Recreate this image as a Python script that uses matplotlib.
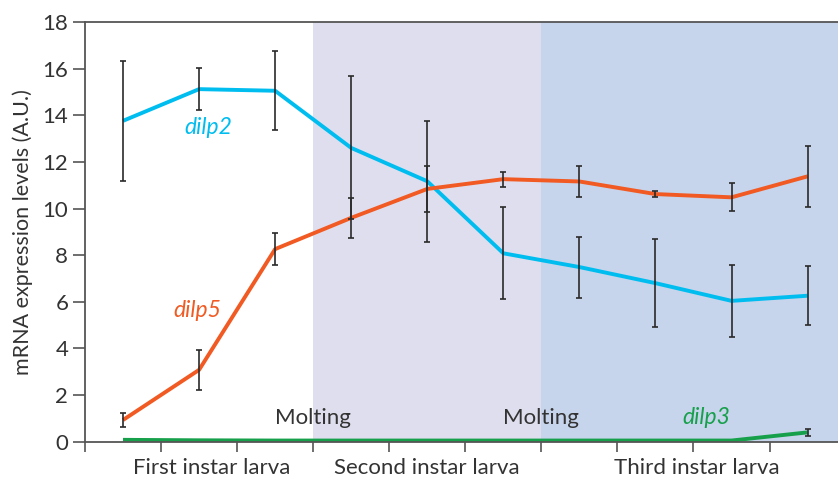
import numpy as np
import matplotlib.pyplot as plt

plt.rcParams['font.family'] = ['Lato', 'DejaVu Sans']

# sampling points (10 time points, 3 per first/second instar, 4 in third)
points = np.arange(10) + 0.5

dilp2 = [13.76, 15.12, 15.05, 12.6, 11.17, 8.08, 7.49, 6.8, 6.04, 6.26]
dilp2_err = [2.56, 0.9, 1.7, 3.07, 2.6, 1.98, 1.31, 1.88, 1.53, 1.26]

dilp5 = [0.93, 3.08, 8.26, 9.6, 10.84, 11.26, 11.16, 10.62, 10.48, 11.38]
dilp5_err = [0.31, 0.86, 0.7, 0.87, 1.0, 0.32, 0.65, 0.14, 0.6, 1.32]

dilp3 = [0.08, 0.06, 0.05, 0.05, 0.05, 0.05, 0.05, 0.05, 0.05, 0.4]
dilp3_err = [0, 0, 0, 0, 0, 0, 0, 0, 0, 0.16]

stage_labels = ["First instar larva", "Second instar larva", "Third instar larva"]
stage_label_x = [1.66, 4.49, 8.04]
molting_x = [3, 6]

c_dilp2 = '#00BDF0'
c_dilp5 = '#F15A22'
c_dilp3 = '#17A04B'
c_text = '#333333'

fig = plt.figure(figsize=(8.38, 4.82), dpi=100)
ax = fig.add_axes([0.1014, 0.0836, 0.8986, 0.8708])

# instar shading
ax.axvspan(3, 6, color='#DFDEEE', lw=0, zorder=0)
ax.axvspan(6, 10, color='#C6D4EC', lw=0, zorder=0)

ax.plot(points, dilp2, color=c_dilp2, lw=2.8, zorder=2, solid_capstyle='butt')
ax.plot(points, dilp5, color=c_dilp5, lw=2.8, zorder=2, solid_capstyle='butt')
ax.plot(points, dilp3, color=c_dilp3, lw=2.8, zorder=2, solid_capstyle='butt')

for vals, errs in [(dilp2, dilp2_err), (dilp5, dilp5_err)]:
    ax.errorbar(points, vals, yerr=errs, fmt='none', ecolor='#2a2a2a',
                elinewidth=1.2, capsize=2.5, capthick=1.2, zorder=3)
ax.errorbar(points[-1:], dilp3[-1:], yerr=dilp3_err[-1:], fmt='none',
            ecolor='#2a2a2a', elinewidth=1.2, capsize=2.5, capthick=1.2, zorder=3)

# series labels
ax.text(1.62, 13.47, 'dilp2', color=c_dilp2, fontsize=16.5, style='italic',
        ha='center', va='center')
ax.text(1.48, 5.63, 'dilp5', color=c_dilp5, fontsize=16.5, style='italic',
        ha='center', va='center')
ax.text(8.17, 1.02, 'dilp3', color=c_dilp3, fontsize=16.5, style='italic',
        ha='center', va='center')
for mx in molting_x:
    ax.text(mx, 1.02, 'Molting', color=c_text, fontsize=16,
            ha='center', va='center')

ax.set_xlim(0, 9.9)
ax.set_ylim(0, 18)
ax.set_yticks(np.arange(0, 19, 2))
ax.set_xticks(np.arange(0, 10))
ax.set_xticklabels([])

for name, lab_x in zip(stage_labels, stage_label_x):
    ax.text(lab_x, -0.063, name, transform=ax.get_xaxis_transform(),
            ha='center', va='center', fontsize=16, color=c_text)

ax.set_ylabel('mRNA expression levels (A.U.)', fontsize=15.5, color=c_text,
              labelpad=7)

ax.spines['right'].set_visible(False)
for s in ['left', 'bottom', 'top']:
    ax.spines[s].set_color('#555555')
    ax.spines[s].set_linewidth(1.3)
ax.tick_params(axis='y', direction='out', length=9, width=1.2,
               colors='#555555', labelcolor=c_text, labelsize=16, pad=3)
ax.tick_params(axis='x', direction='out', length=7, width=1.2,
               colors='#555555')

fig.savefig('out.png', dpi=100)
